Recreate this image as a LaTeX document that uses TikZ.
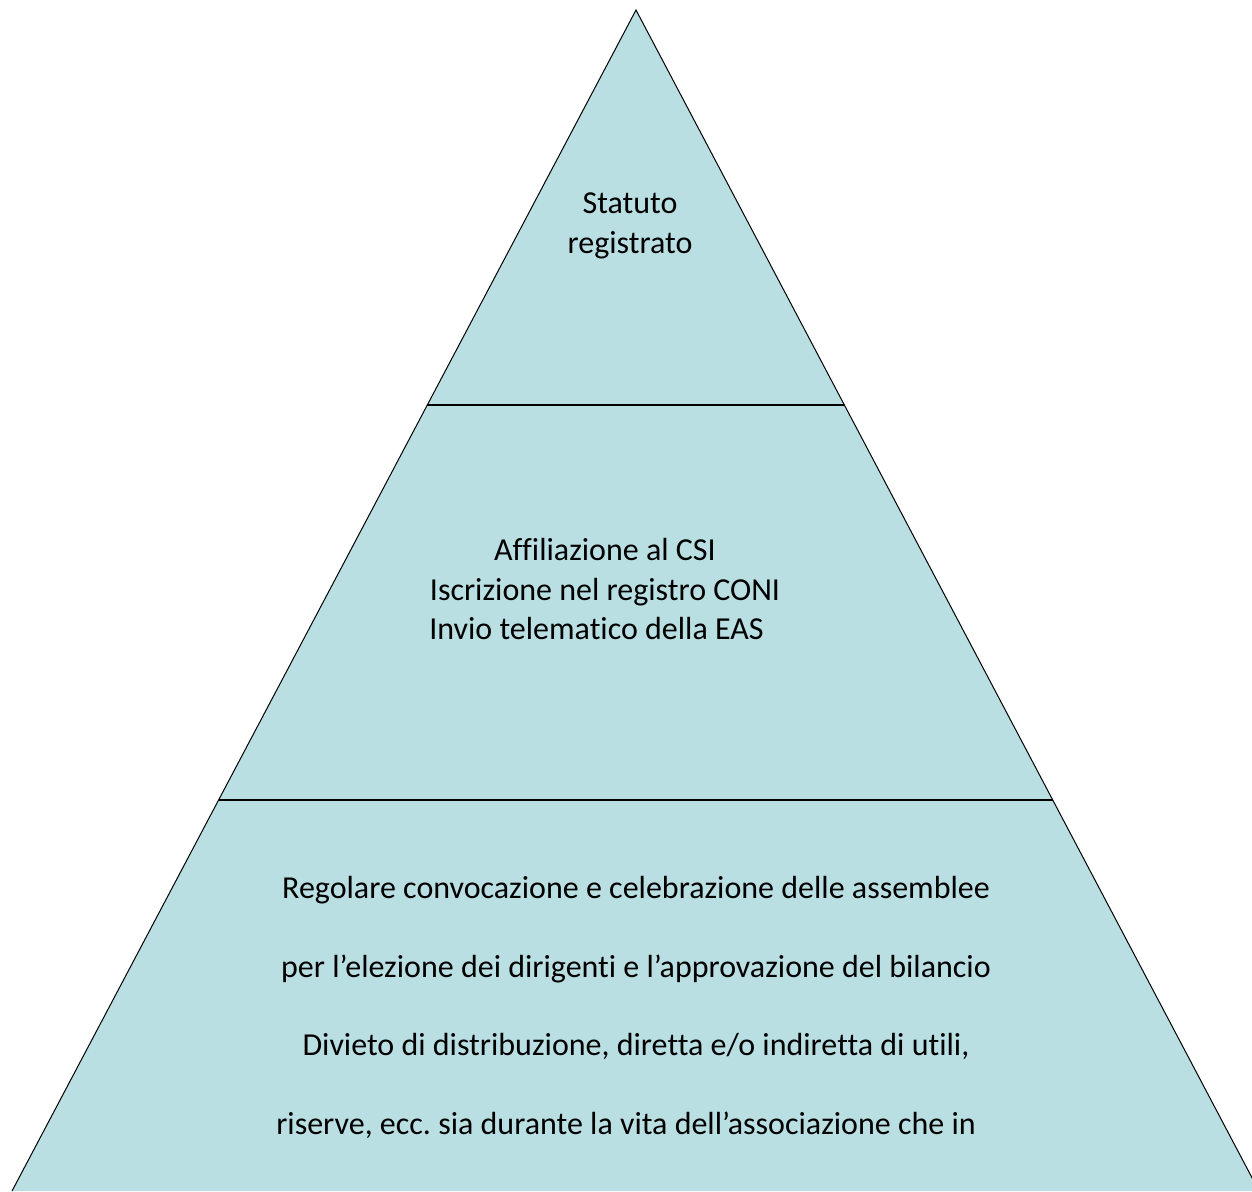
\documentclass[tikz,border=0pt]{standalone}
\usepackage{fontspec}
\setmainfont{Carlito}[Ligatures=NoCommon]
\usetikzlibrary{calc}
\definecolor{pyrfill}{HTML}{B9DFE3}
\frenchspacing
\tikzset{
  edge/.style={draw=black, line width=0.5pt},
  divider/.style={draw=black, line width=1.1pt},
  label/.style={align=center, font=\fontsize{16}{19.7}\selectfont, inner sep=0pt},
  widelabel/.style={align=center, font=\fontsize{16}{39.3}\selectfont, inner sep=0pt}
}
\begin{document}
\begin{tikzpicture}[x=0.5pt, y=-0.5pt]
\useasboundingbox (0,0) rectangle (1252,1191);
\clip (0,0) rectangle (1252,1191);
\coordinate (apex) at (636,10);
\coordinate (bl) at (12,1191);
\coordinate (br) at (1259,1191);
\fill[pyrfill] (bl) -- (apex) -- (br) -- cycle;
\draw[edge] (bl) -- (apex) -- (br);
\coordinate (l1) at ($(apex)!395/1181!(bl)$);
\coordinate (r1) at ($(apex)!395/1181!(br)$);
\coordinate (l2) at ($(apex)!790/1181!(bl)$);
\coordinate (r2) at ($(apex)!790/1181!(br)$);
\draw[divider] (l1) -- (r1);
\draw[divider] (l2) -- (r2);
\node[label] (top) at (630,226) {Statuto\\registrato};
\node[label] (mid) at (605,589) {Affiliazione al CSI\\Iscrizione nel registro CONI\\Invio telematico della EAS\hspace*{8.5pt}};
\node[widelabel, anchor=north] (bot) at (636,876) {Regolare convocazione e celebrazione delle assemblee\\per l’elezione dei dirigenti e l’approvazione del bilancio\\Divieto di distribuzione, diretta e/o indiretta di utili,\\riserve, ecc. sia durante la vita dell’associazione che in\hspace*{10pt}};
\end{tikzpicture}
\end{document}
